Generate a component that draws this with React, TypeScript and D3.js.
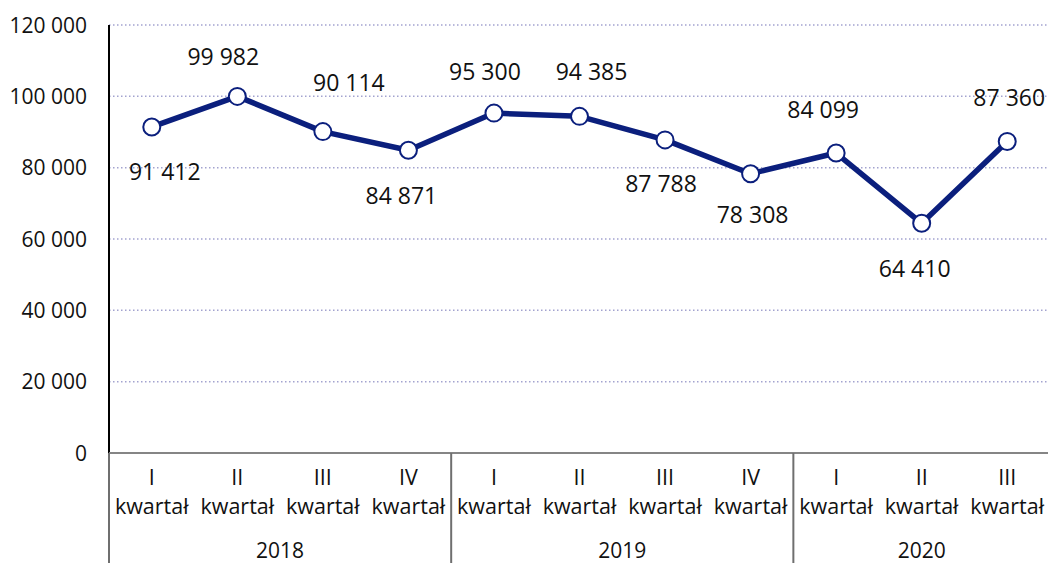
import * as d3 from 'd3';

// Quarterly values 2018 Q1 – 2020 Q3
const quarters = ['I', 'II', 'III', 'IV', 'I', 'II', 'III', 'IV', 'I', 'II', 'III'];
const years = ['2018', '2019', '2020'];
const quartersPerYear = [4, 4, 3];
const values = [91412, 99982, 90114, 84871, 95300, 94385, 87788, 78308, 84099, 64410, 87360];
const yTicks = [0, 20000, 40000, 60000, 80000, 100000, 120000];

// label nudges (dx, dy of text baseline relative to the point)
const labelDx = [13, -14, 26, -7, -9, 12, -4, 2, -13, -7, 2];
const labelDy = [53, -31, -41, 54, -33, -36, 52, 49, -35, 54, -35];

const W = 1048;
const H = 563;
const margin = { left: 109, right: -2, top: 25, axis: 453 };
const navy = '#0b1f7d';
const font = '"Open Sans", "Noto Sans", sans-serif';

const fmt = d3.formatLocale({ decimal: ',', thousands: ' ', grouping: [3], currency: ['', ''] }).format(',d');

const App = () => {
    const x = d3.scaleBand<number>()
        .domain(values.map((_, i) => i))
        .range([margin.left, W - margin.right]);

    const y = d3.scaleLinear()
        .domain([0, 120000])
        .range([margin.axis, margin.top]);

    const cx = (i: number) => (x(i) ?? 0) + x.bandwidth() / 2;

    const line = d3.line<number>()
        .x((_, i) => cx(i))
        .y(d => y(d));

    // year group boundaries in band units
    const bounds: number[] = [0];
    quartersPerYear.forEach(n => bounds.push(bounds[bounds.length - 1] + n));
    const edge = (k: number) => margin.left + k * x.step();

    return (
        <svg width={W} height={H} style={{ position: 'absolute', left: 0, top: 0, display: 'block', background: '#fff' }}
            fontFamily={font}>
            {/* grid */}
            {yTicks.filter(t => t > 0).map(t => (
                <line key={t} x1={margin.left} x2={W} y1={y(t)} y2={y(t)}
                    stroke="#a3a3cf" strokeWidth={1.5} strokeDasharray="1.5 2.5" />
            ))}

            {/* y tick labels */}
            {yTicks.map(t => (
                <text key={t} x={87} y={y(t)} dy="0.36em" textAnchor="end" fontSize={21} fill="#111">
                    {fmt(t)}
                </text>
            ))}

            {/* left axis */}
            <line x1={margin.left} x2={margin.left} y1={margin.top} y2={margin.axis} stroke="#000" strokeWidth={2} />

            {/* category axis with year separators */}
            <line x1={margin.left} x2={W} y1={margin.axis} y2={margin.axis} stroke="#858585" strokeWidth={2} />
            {bounds.map(b => (
                <line key={b} x1={edge(b)} x2={edge(b)} y1={margin.axis} y2={H} stroke="#6f6f6f" strokeWidth={2} />
            ))}
            {quarters.map((q, i) => (
                <text key={i} textAnchor="middle" fill="#111" fontSize={21.5}>
                    <tspan x={cx(i)} y={margin.axis + 32}>{q}</tspan>
                    <tspan x={cx(i)} y={margin.axis + 61}>kwartał</tspan>
                </text>
            ))}
            {years.map((yr, k) => (
                <text key={yr} x={(edge(bounds[k]) + edge(bounds[k + 1])) / 2} y={margin.axis + 105}
                    textAnchor="middle" fontSize={21} fill="#111">{yr}</text>
            ))}

            {/* series */}
            <path d={line(values) ?? ''} fill="none" stroke={navy} strokeWidth={5.5} strokeLinejoin="round" />
            {values.map((v, i) => (
                <circle key={i} cx={cx(i)} cy={y(v)} r={8.5} fill="#fff" stroke={navy} strokeWidth={2} />
            ))}

            {/* data labels */}
            {values.map((v, i) => (
                <text key={i} x={cx(i) + labelDx[i]} y={y(v) + labelDy[i]} textAnchor="middle"
                    fontSize={23} fill="#111">{fmt(v)}</text>
            ))}
        </svg>
    );
};

export default App;
